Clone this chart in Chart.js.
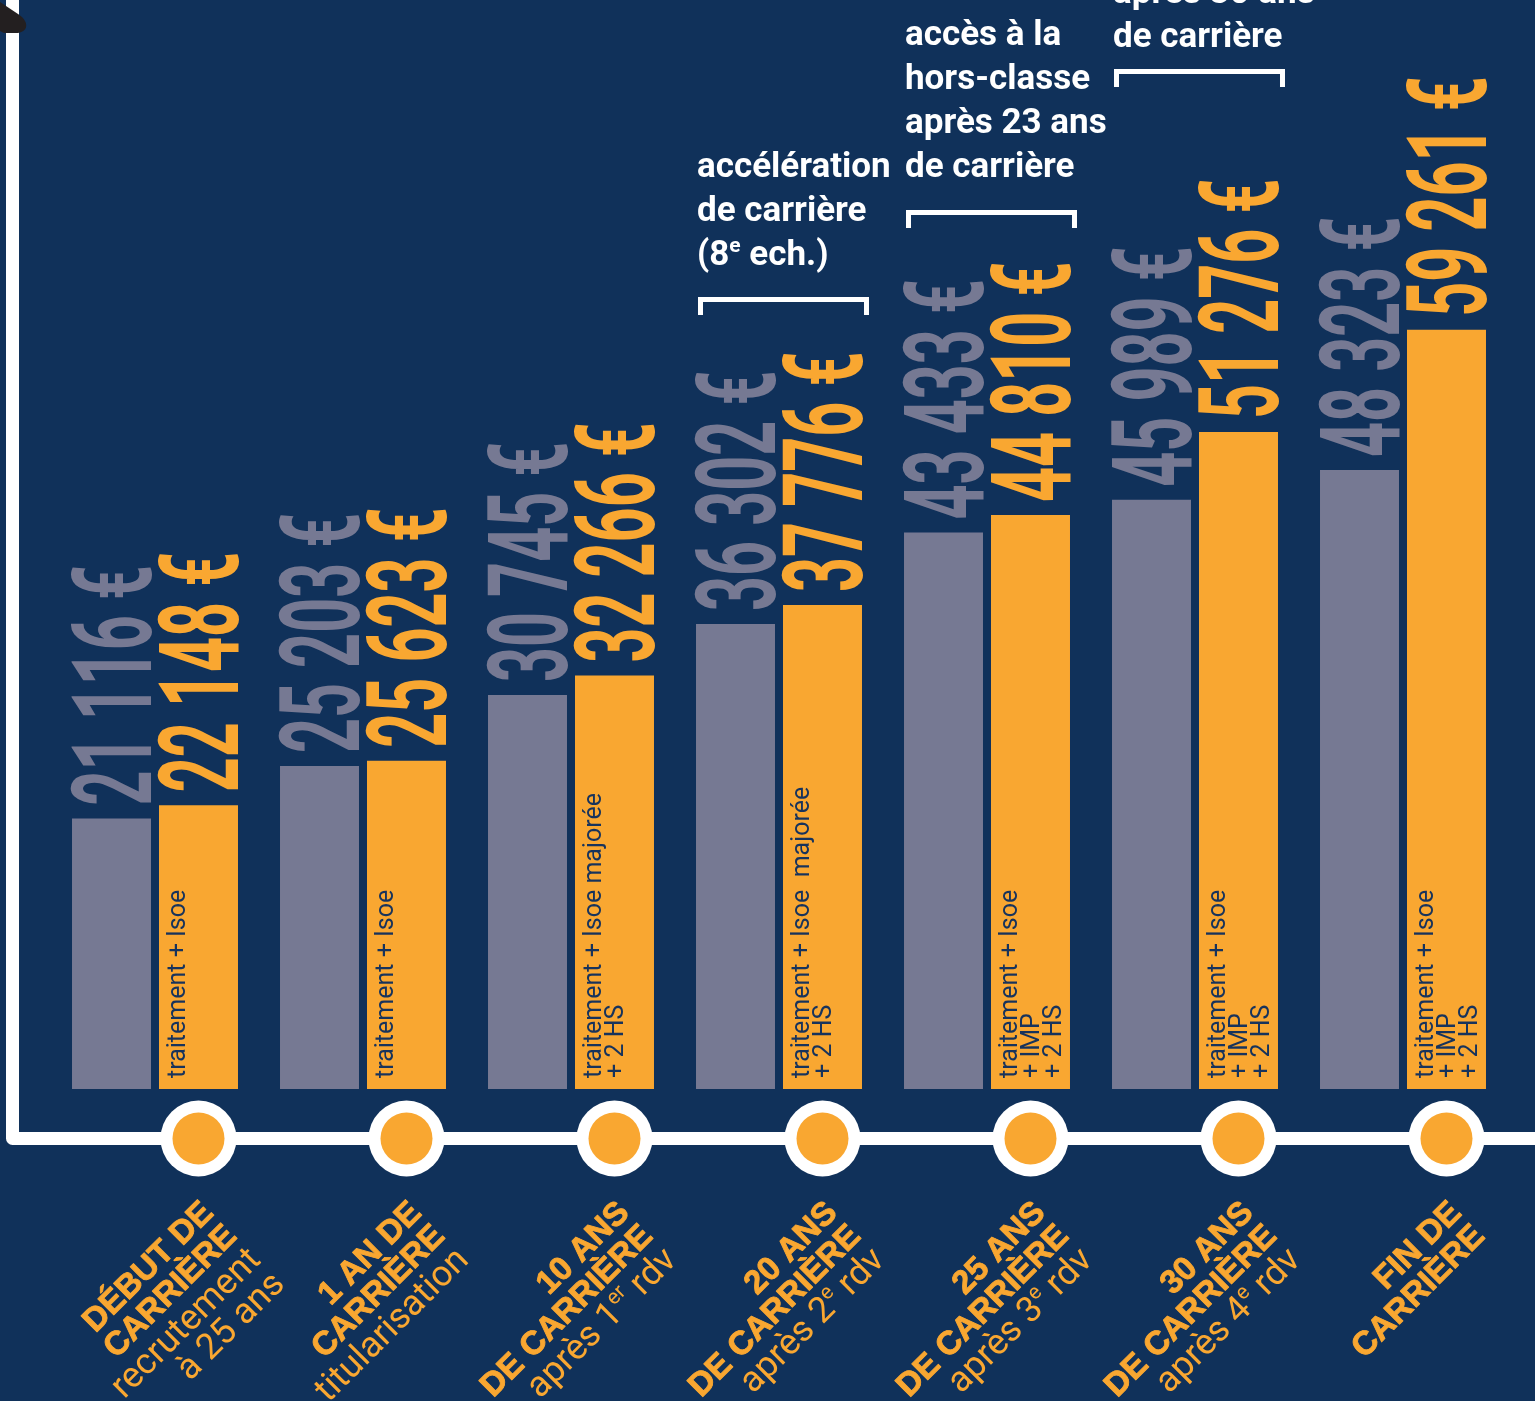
<!DOCTYPE html>
<html><head><meta charset="utf-8">
<script src="https://cdn.jsdelivr.net/npm/chart.js@4.4.1/dist/chart.umd.min.js"></script>
<style>html,body{margin:0;padding:0;background:#10315a;overflow:hidden}canvas{display:block}</style>
</head><body><canvas id="c" width="1535" height="1401"></canvas>
<script>
// ---- data ----
const categories = ["Début de carrière","1 an de carrière","10 ans de carrière","20 ans de carrière","25 ans de carrière","30 ans de carrière","Fin de carrière"];
const traitementValues = [21116, 25203, 30745, 36302, 43433, 45989, 48323];
const remunerationValues = [22148, 25623, 32266, 37776, 44810, 51276, 59261];
const titleLines = [["DÉBUT DE","CARRIÈRE"],["1 AN DE","CARRIÈRE"],["10 ANS","DE CARRIÈRE"],["20 ANS","DE CARRIÈRE"],["25 ANS","DE CARRIÈRE"],["30 ANS","DE CARRIÈRE"],["FIN DE","CARRIÈRE"]];
const subLines = [["recrutement","à 25 ans"],["titularisation"],["après 1{er} rdv"],["après 2{e} rdv"],["après 3{e} rdv"],["après 4{e} rdv"],[]];
const barNotes = [["traitement + Isoe"],["traitement + Isoe"],["traitement + Isoe majorée","+ 2 HS"],["traitement + Isoe  majorée","+ 2 HS"],["traitement + Isoe","+ IMP","+ 2 HS"],["traitement + Isoe","+ IMP","+ 2 HS"],["traitement + Isoe","+ IMP","+ 2 HS"]];
const annotations = [null,null,null,["accélération","de carrière","(8{e} ech.)"],["accès à la","hors-classe","après 23 ans","de carrière"],["après 30 ans","de carrière"],null];

// ---- styles / layout ----
const BG = '#10315a', GREY = '#767993', ORANGE = '#f9a731', NOTE = '#17335c';
const annotLayout = { 3:{baseline:177, bracket:297}, 4:{baseline:45, bracket:210}, 5:{baseline:3, bracket:69} };

function fmt(v){ return String(v).replace(/\B(?=(\d{3})+(?!\d))/g,' ') + ' €'; }
function parseRich(s){ const segs=[]; const re=/\{([^}]*)\}/g; let last=0,m;
  while((m=re.exec(s))){ if(m.index>last) segs.push({t:s.slice(last,m.index),sup:false}); segs.push({t:m[1],sup:true}); last=re.lastIndex; }
  if(last<s.length) segs.push({t:s.slice(last),sup:false}); return segs; }
function drawRich(ctx, s, x, y, font, supFont, rise, align, stroke){
  const segs = parseRich(s); let total=0;
  segs.forEach(sg=>{ ctx.font = sg.sup?supFont:font; sg.w = ctx.measureText(sg.t).width; total+=sg.w; });
  let cx = align==='right' ? x-total : x;
  segs.forEach(sg=>{ ctx.font = sg.sup?supFont:font; const yy = sg.sup? y-rise : y;
    ctx.fillText(sg.t, cx, yy); if(stroke){ ctx.strokeText(sg.t, cx, yy); } cx+=sg.w; });
}

const overlay = {
  id:'overlay',
  beforeDraw(chart){ const c=chart.ctx; c.save(); c.fillStyle=BG; c.fillRect(0,0,chart.width,chart.height); c.restore(); },
  afterDatasetsDraw(chart){
    const ctx = chart.ctx, area = chart.chartArea;
    const m0 = chart.getDatasetMeta(0).data, m1 = chart.getDatasetMeta(1).data;
    ctx.save();
    ctx.textAlign='left'; ctx.textBaseline='alphabetic';
    // value labels
    [[m0, traitementValues, GREY],[m1, remunerationValues, ORANGE]].forEach(([meta, vals, col])=>{
      meta.forEach((bar,i)=>{
        const right = bar.x + bar.width/2;
        ctx.save(); ctx.translate(right, bar.y - 13); ctx.rotate(-Math.PI/2); ctx.scale(0.545,1);
        ctx.fillStyle = col; ctx.font = 'bold 112px Roboto'; ctx.fillText(fmt(vals[i]), 0, 0);
        ctx.restore();
      });
    });
    // notes inside orange bars
    m1.forEach((bar,i)=>{
      const left = bar.x - bar.width/2;
      ctx.save(); ctx.translate(left, bar.base - 11); ctx.rotate(-Math.PI/2);
      ctx.fillStyle = NOTE; ctx.font = '25px Roboto';
      barNotes[i].forEach((l,k)=> ctx.fillText(l, 0, 26 + k*22));
      ctx.restore();
    });
    // annotations with brackets
    annotations.forEach((lines,i)=>{
      if(!lines) return; const L = annotLayout[i];
      const gl = m0[i].x - m0[i].width/2, orr = m1[i].x + m1[i].width/2;
      ctx.fillStyle = '#ffffff';
      lines.forEach((l,k)=> drawRich(ctx, l, gl+1, L.baseline + k*44, 'bold 35px Roboto', 'bold 21px Roboto', 13, 'left'));
      ctx.strokeStyle='#ffffff'; ctx.lineWidth=5; ctx.lineJoin='miter'; ctx.lineCap='butt';
      ctx.beginPath(); ctx.moveTo(gl+4.5, L.bracket+18); ctx.lineTo(gl+4.5, L.bracket+2.5); ctx.lineTo(orr+4.5, L.bracket+2.5); ctx.lineTo(orr+4.5, L.bracket+18); ctx.stroke();
    });
    // timeline
    const ly = area.bottom + 49.5;
    ctx.strokeStyle='#ffffff'; ctx.lineWidth=13; ctx.lineJoin='round'; ctx.lineCap='butt';
    ctx.beginPath(); ctx.moveTo(12.5,0); ctx.lineTo(12.5,ly); ctx.lineTo(chart.width+10,ly); ctx.stroke();
    m1.forEach((bar,i)=>{
      ctx.fillStyle='#ffffff'; ctx.beginPath(); ctx.arc(bar.x, ly, 38, 0, Math.PI*2); ctx.fill();
      ctx.fillStyle=ORANGE; ctx.beginPath(); ctx.arc(bar.x, ly, 26, 0, Math.PI*2); ctx.fill();
      // category labels
      ctx.save(); ctx.translate(bar.x, ly); ctx.rotate(-Math.PI/4); ctx.fillStyle=ORANGE; ctx.strokeStyle=ORANGE; ctx.lineWidth=0.9; ctx.lineJoin='round';
      let y = 65;
      titleLines[i].forEach((l,k)=>{ if(k>0) y+=33; drawRich(ctx, l, -42, y, 'bold 33px "Liberation Sans"', 'bold 20px "Liberation Sans"', 12, 'right', true); });
      subLines[i].forEach(l=>{ y+=34; drawRich(ctx, l, -42, y, '36px Roboto', '21px Roboto', 14, 'right', false); });
      ctx.restore();
    });
    // dark blob top-left
    ctx.fillStyle='#231f20'; ctx.beginPath();
    ctx.moveTo(0,2); ctx.bezierCurveTo(6,6,12,10,18,14); ctx.bezierCurveTo(28,20,30,31,18,33); ctx.lineTo(4,33); ctx.lineTo(0,31); ctx.closePath(); ctx.fill();
    ctx.restore();
  }
};

new Chart(document.getElementById('c'), {
  type:'bar',
  data:{ labels: categories, datasets:[
    { label:'Traitement', data: traitementValues, backgroundColor: GREY, borderWidth:0 },
    { label:'Rémunération', data: remunerationValues, backgroundColor: ORANGE, borderWidth:0 }
  ]},
  options:{
    responsive:false, animation:false, devicePixelRatio:1,
    layout:{ padding:{ left:51, right:28, top:0, bottom:312 } },
    datasets:{ bar:{ categoryPercentage:0.8365, barPercentage:0.908 } },
    plugins:{ legend:{display:false}, tooltip:{enabled:false} },
    scales:{ x:{ display:false }, y:{ display:false, min:0, max:85000 } }
  },
  plugins:[overlay]
});
</script></body></html>
